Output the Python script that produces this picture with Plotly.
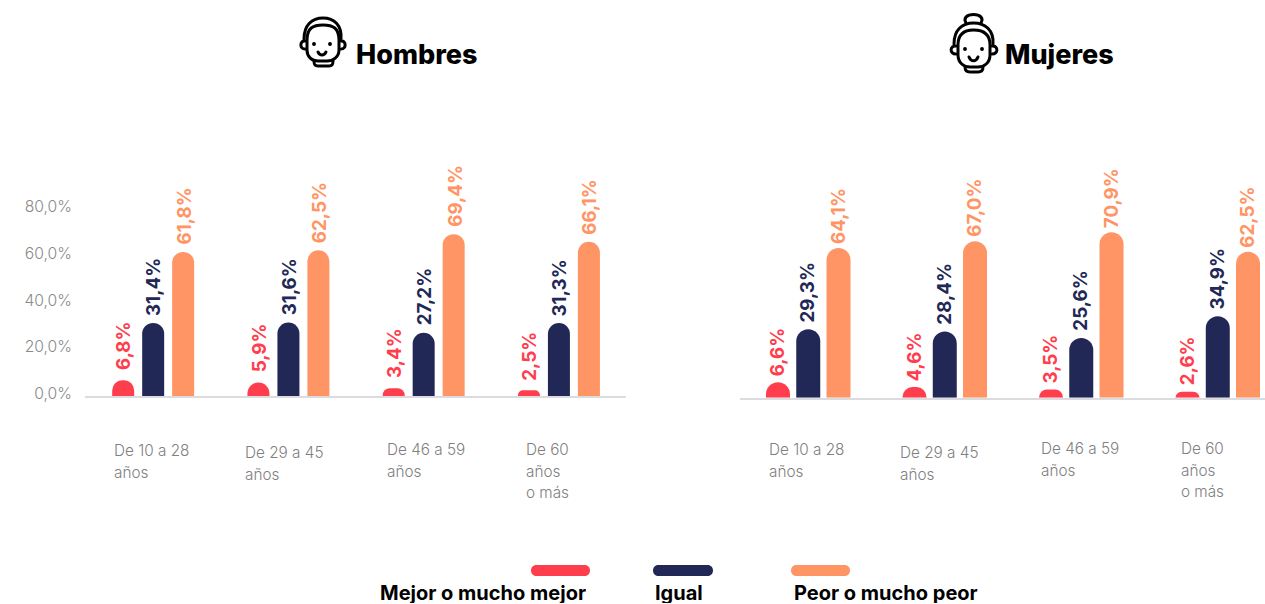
import base64
import plotly.graph_objects as go

W, H = 1265, 604

categories = ["De 10 a 28<br>años", "De 29 a 45<br>años", "De 46 a 59<br>años", "De 60<br>años<br>o más"]
series_names = ["Mejor o mucho mejor", "Igual", "Peor o mucho peor"]
hombres_mejor = [6.8, 5.9, 3.4, 2.5]
hombres_igual = [31.4, 31.6, 27.2, 31.3]
hombres_peor = [61.8, 62.5, 69.4, 66.1]
mujeres_mejor = [6.6, 4.6, 3.5, 2.6]
mujeres_igual = [29.3, 28.4, 25.6, 34.9]
mujeres_peor = [64.1, 67.0, 70.9, 62.5]
y_ticks = [0, 20, 40, 60, 80]
y_tick_labels = ["0,0%", "20,0%", "40,0%", "60,0%", "80,0%"]

RED, NAVY, ORANGE = "#FF3E4D", "#212856", "#FF9464"
colors = [RED, NAVY, ORANGE]
LBL = "Inter"
BARGAP = 0.335

def fx(x):
    return x / W

def fy(y):
    return 1 - y / H

def fmt(v):
    return f"{v:.1f}%".replace(".", ",")

annotations = []
fig = go.Figure()
slot = (1 - BARGAP) / 3
for xa, ya, groups, bw, rad, shift, lifts in [
        ("x", "y", [hombres_mejor, hombres_igual, hombres_peor], 22 / 135.25, 11, 1, [8, 5, 5]),
        ("x2", "y2", [mujeres_mejor, mujeres_igual, mujeres_peor], 24 / 136.5, 12, -0.5, [4, 5, 2])]:
    for k, (name, vals, c) in enumerate(zip(series_names, groups, colors)):
        fig.add_trace(go.Bar(
            x=list(range(4)), y=vals, name=name, xaxis=xa, yaxis=ya, width=bw,
            marker=dict(color=c, line_width=0, cornerradius=rad),
            showlegend=False, hoverinfo="x+y"))
        for i, v in enumerate(vals):
            annotations.append(dict(text=fmt(v), xref=xa, yref=ya, x=i + (k - 1) * slot, y=v, xanchor="center",
                                    yanchor="bottom", yshift=lifts[k], xshift=shift, textangle=-90, showarrow=False,
                                    font=dict(family=LBL, size=18.8, color=c, weight=700)))

shapes = []
# legend pills
for x0, x1, c in [(531, 590, RED), (653, 713, NAVY), (791, 850, ORANGE)]:
    y0, y1, r = 565, 576, 5.5
    e = r / 3
    path = (f"M {fx(x0+r)} {fy(y0)} L {fx(x1-r)} {fy(y0)} "
            f"C {fx(x1+e)} {fy(y0)} {fx(x1+e)} {fy(y1)} {fx(x1-r)} {fy(y1)} "
            f"L {fx(x0+r)} {fy(y1)} C {fx(x0-e)} {fy(y1)} {fx(x0-e)} {fy(y0)} {fx(x0+r)} {fy(y0)} Z")
    shapes.append(dict(type="path", xref="paper", yref="paper", path=path, fillcolor=c, line_width=0))

def note(text, x, y, size, color="#000000", weight=700, box=None):
    annotations.append(dict(text=text, xref="paper", yref="paper", x=fx(x), y=fy(y), xanchor="left",
                            yanchor="middle", showarrow=False, align="left", height=box,
                            font=dict(family=LBL, size=size, color=color, weight=weight)))

note("Hombres", 354, 55, 27, weight=800)
note("Mujeres", 1003, 55, 27, weight=800)
note(series_names[0], 378, 593, 20, box=20)
note(series_names[1], 653, 593, 20, box=20)
note(series_names[2], 792, 593, 20, box=20)

# category labels, left aligned under each group, one annotation per line
LINE = 21.5
for xr, offs, tops in [("x", [-41.6, -45, -39, -35], [439, 441, 438, 438]),
                       ("x2", [-41, -46.5, -42, -38.5], [438, 441, 437, 437])]:
    for i, cat in enumerate(categories):
        for j, line in enumerate(cat.split("<br>")):
            annotations.append(dict(text=line, xref=xr, yref="paper", x=i, xshift=offs[i],
                                    y=fy(tops[i] + LINE * j), xanchor="left", yanchor="top",
                                    align="left", showarrow=False,
                                    font=dict(family=LBL, size=15.3, color="#808080", weight=300)))

man = """<svg xmlns='http://www.w3.org/2000/svg' width='60' height='70' viewBox='0 0 60 70'>
<g transform='translate(-15,0)' fill='none' stroke='black' stroke-width='3' stroke-linecap='round' stroke-linejoin='round'>
<path d='M25 39 C25 25 33 18 44 18 C55 18 63 25 62 39'/>
<path d='M28 40 C28 28 34 25 44 25 C54 25 60 28 60 40 L60 50 C60 57 54 61 48 61 L39 61 C33 61 28 57 28 50 Z'/>
<path d='M35 61 C35 65 36 66 39 66 L50 66 C53 66 54 65 54 61'/>
<path d='M26 41 C21 40 20 49 26 49'/><path d='M62 41 C67 40 68 49 62 49'/>
<path d='M39 52 C41 56 45 56 47 52'/>
<circle cx='35' cy='44' r='1.2' fill='black' stroke-width='1.5'/><circle cx='51' cy='44' r='1.2' fill='black' stroke-width='1.5'/>
</g></svg>"""
woman = """<svg xmlns='http://www.w3.org/2000/svg' width='60' height='76' viewBox='0 0 60 76'>
<g transform='translate(-15,0)' fill='none' stroke='black' stroke-width='3' stroke-linecap='round' stroke-linejoin='round'>
<path d='M37 23 C34 18 38 14.5 44.5 14.5 C51 14.5 55 18 52 23'/>
<path d='M25 44 C25 30 33 23 44.5 23 C56 23 65 30 64 44'/>
<path d='M29 45 C29 33 36 30 44.5 30 C53 30 61 33 61 45 L61 55 C61 63 55 67 49 67 L41 67 C35 67 29 63 29 55 Z'/>
<path d='M36 67 C36 71 38 72 41 72 L49 72 C52 72 54 71 54 67'/>
<path d='M27 46 C21 45 20 54 27 54'/><path d='M63 46 C69 45 70 54 63 54'/>
<path d='M40 57 C42 62 47 62 49 57'/>
<circle cx='36' cy='49' r='1.2' fill='black' stroke-width='1.5'/><circle cx='53' cy='49' r='1.2' fill='black' stroke-width='1.5'/>
</g></svg>"""

def uri(svg):
    return "data:image/svg+xml;base64," + base64.b64encode(svg.encode()).decode()

images = [dict(source=uri(man), xref="paper", yref="paper", x=fx(294), y=fy(0), sizex=60 / W, sizey=70 / H,
               xanchor="left", yanchor="top", sizing="stretch", layer="above"),
          dict(source=uri(woman), xref="paper", yref="paper", x=fx(944), y=fy(0), sizex=60 / W, sizey=76 / H,
               xanchor="left", yanchor="top", sizing="stretch", layer="above")]

AX = "#DCDCE0"
TICK_NUDGE = 1.2  # tick labels sit slightly above their gridline level in the reference
fig.update_layout(
    width=W, height=H, autosize=False, margin=dict(l=0, r=0, t=0, b=0, autoexpand=False),
    paper_bgcolor="white", plot_bgcolor="white",
    barmode="group", bargap=BARGAP, bargroupgap=0.0,
    shapes=shapes, annotations=annotations, images=images,
    xaxis=dict(domain=[fx(85), fx(626)], range=[-0.504, 3.496], anchor="y", showticklabels=False, ticks="",
               showgrid=False, zeroline=False, showline=True, linecolor=AX, linewidth=1.5),
    xaxis2=dict(domain=[fx(740), 1], range=[-0.5, 3.346], anchor="y2", showticklabels=False, ticks="",
                showgrid=False, zeroline=False, showline=True, linecolor=AX, linewidth=1.5),
    yaxis=dict(domain=[fy(396.2), fy(396.2 - 233.5)], range=[0, 100], anchor="x",
               tickvals=[v + TICK_NUDGE for v in y_ticks], ticktext=y_tick_labels,
               showgrid=False, zeroline=False, showline=False, ticks="", ticklabelstandoff=12,
               tickfont=dict(family=LBL, size=15.7, color="#8a8a8a", weight=300)),
    yaxis2=dict(domain=[fy(397.7), fy(397.7 - 233.5)], range=[0, 100], anchor="x2", showticklabels=False, showgrid=False,
                zeroline=False, showline=False, ticks=""),
)
fig.write_html("out.html", config=dict(displayModeBar=False),
               post_script="document.body.style.margin='0';document.body.style.overflow='hidden';")
